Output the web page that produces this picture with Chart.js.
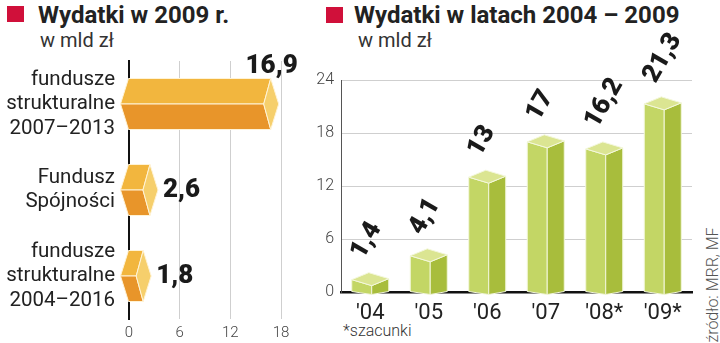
<!DOCTYPE html>
<html>
<head>
<meta charset="utf-8">
<script src="https://cdn.jsdelivr.net/npm/chart.js@4/dist/chart.umd.min.js"></script>
<style>
  html, body { margin: 0; padding: 0; background: #fff; }
  #wrap { position: relative; width: 720px; height: 343px; overflow: hidden; font-family: Roboto, "Liberation Sans", sans-serif; color: #222; }
  .abs { position: absolute; white-space: nowrap; }
  .sq { position: absolute; width: 17px; height: 16px; background: #d0103a; }
  .title { font-weight: bold; font-size: 24px; line-height: 24px; }
  .sub { font-size: 20px; line-height: 20px; color: #333; }
  canvas { position: absolute; top: 0; }
</style>
</head>
<body>
<div id="wrap">
  <div class="sq" style="left:7px;top:6px"></div>
  <div class="abs title" style="left:38px;top:3px">Wydatki w 2009 r.</div>
  <div class="abs sub" style="left:40px;top:30px">w mld zł</div>

  <div class="sq" style="left:326px;top:7px"></div>
  <div class="abs title" style="left:354px;top:3px">Wydatki w latach 2004 – 2009</div>
  <div class="abs sub" style="left:358px;top:30px">w mld zł</div>

  <div class="abs" style="left:343px;top:322px;font-size:16px;line-height:17px;font-weight:300;color:#333">*szacunki</div>
  <div class="abs" style="left:713px;top:285px;font-size:16px;line-height:16px;font-weight:300;color:#555;transform:translate(-50%,-50%) rotate(-90deg)">źródło: MRR, MF</div>

  <canvas id="leftChart" width="300" height="343" style="left:0"></canvas>
  <canvas id="rightChart" width="420" height="343" style="left:300px"></canvas>
</div>

<script>
// Left panel data
const fundLabels = [['fundusze', 'strukturalne', '2007–2013'], ['Fundusz', 'Spójności'], ['fundusze', 'strukturalne', '2004–2016']];
const fundValues = [16.9, 2.6, 1.8];
const fundTicks = [0, 6, 12, 18];

// Right panel data
const yearLabels = ["'04", "'05", "'06", "'07", "'08*", "'09*"];
const yearValues = [1.4, 4.1, 13, 17, 16.2, 21.3];
const yearTicks = [0, 6, 12, 18, 24];

const numFont = '900 26px Roboto, "Liberation Sans", sans-serif';

function fmt(v) {
  return String(v).replace('.', ',');
}

function poly(ctx, pts, fill) {
  ctx.beginPath();
  ctx.moveTo(pts[0][0], pts[0][1]);
  for (let i = 1; i < pts.length; i++) ctx.lineTo(pts[i][0], pts[i][1]);
  ctx.closePath();
  ctx.fillStyle = fill;
  ctx.fill();
  ctx.stroke();
}

// 3D horizontal bars (orange)
const hexBars = {
  id: 'hexBars',
  afterDatasetsDraw(chart) {
    const ctx = chart.ctx;
    const meta = chart.getDatasetMeta(0);
    ctx.save();
    ctx.strokeStyle = '#fff3d6';
    ctx.lineWidth = 1;
    meta.data.forEach((bar, i) => {
      const { x, y, base, height } = bar.getProps(['x', 'y', 'base', 'height'], true);
      const top = y - height / 2;
      const bot = y + height / 2;
      poly(ctx, [[base - 9, y], [base - 1, top], [x - 1, top], [x - 8, y]], '#f2b63e');
      poly(ctx, [[base - 9, y], [base - 1, bot], [x - 1, bot], [x - 8, y]], '#e8952a');
      poly(ctx, [[x - 1, top], [x + 7, y], [x - 1, bot], [x - 8, y]], '#f6cf6c');

      // value label
      ctx.fillStyle = '#1a1a1a';
      ctx.font = numFont;
      ctx.textBaseline = 'middle';
      if (x + 60 > chart.width) {
        ctx.textAlign = 'right';
        ctx.fillText(fmt(fundValues[i]), x + 26, top - 12);
      } else {
        ctx.textAlign = 'left';
        ctx.fillText(fmt(fundValues[i]), x + 12, y);
      }
    });
    ctx.restore();
  }
};

// 3D vertical bars (green)
const boxBars = {
  id: 'boxBars',
  afterDatasetsDraw(chart) {
    const ctx = chart.ctx;
    const meta = chart.getDatasetMeta(0);
    ctx.save();
    ctx.strokeStyle = '#f3f7dc';
    ctx.lineWidth = 1;
    meta.data.forEach((bar, i) => {
      const { x, y, base, width } = bar.getProps(['x', 'y', 'base', 'width'], true);
      const left = x - width / 2;
      const right = x + width / 2;
      const front = left + width * 0.54;
      const back = left + (right - front);
      poly(ctx, [[left, y], [front, y + 6], [front, base + 3], [left, base]], '#c3d665');
      poly(ctx, [[front, y + 6], [right, y - 1], [right, base], [front, base + 3]], '#a8bd3c');
      poly(ctx, [[left, y], [back, y - 7], [right, y - 1], [front, y + 6]], '#dbe592');

      // rotated value label
      ctx.save();
      ctx.translate(x - 13, y - 23);
      ctx.rotate(-60 * Math.PI / 180);
      ctx.fillStyle = '#1a1a1a';
      ctx.font = numFont;
      ctx.textAlign = 'left';
      ctx.textBaseline = 'middle';
      ctx.fillText(fmt(yearValues[i]), 0, 0);
      ctx.restore();
    });
    ctx.restore();
  }
};

Chart.defaults.font.family = 'Roboto, "Liberation Sans", sans-serif';
Chart.defaults.animation = false;

const leftChart = new Chart(document.getElementById('leftChart').getContext('2d'), {
  type: 'bar',
  data: {
    labels: fundLabels,
    datasets: [{
      data: fundValues,
      backgroundColor: 'rgba(0,0,0,0)',
      barThickness: 51
    }]
  },
  options: {
    indexAxis: 'y',
    responsive: false,
    devicePixelRatio: 1,
    layout: { padding: { top: 61, right: 19, left: 0, bottom: 0 } },
    plugins: { legend: { display: false }, tooltip: { enabled: false } },
    scales: {
      x: {
        min: 0,
        max: 18,
        afterBuildTicks: scale => { scale.ticks = fundTicks.map(v => ({ value: v })); },
        afterFit: scale => { scale.height = 24; scale.paddingLeft = 0; scale.paddingRight = 0; },
        border: { display: false },
        grid: {
          drawTicks: false,
          color: ctx => ctx.tick && ctx.tick.value === 0 ? 'rgba(0,0,0,0)' : '#cfcfcf'
        },
        ticks: { padding: 5, color: '#444', font: { size: 15, weight: 300 } }
      },
      y: {
        afterFit: scale => { scale.width = 129; scale.paddingTop = 0; scale.paddingBottom = 0; },
        border: { display: true, color: '#111', width: 2 },
        grid: { display: false, drawTicks: false },
        ticks: { padding: 14, color: '#222', font: { size: 20.5, lineHeight: 1.2 } }
      }
    }
  },
  plugins: [hexBars]
});

const rightChart = new Chart(document.getElementById('rightChart').getContext('2d'), {
  type: 'bar',
  data: {
    labels: yearLabels,
    datasets: [{
      data: yearValues,
      backgroundColor: 'rgba(0,0,0,0)',
      barThickness: 37
    }]
  },
  options: {
    responsive: false,
    devicePixelRatio: 1,
    layout: { padding: { top: 80, right: 28, left: 0, bottom: 0 } },
    plugins: { legend: { display: false }, tooltip: { enabled: false } },
    scales: {
      x: {
        afterFit: scale => { scale.height = 51; scale.paddingLeft = 0; scale.paddingRight = 0; },
        border: { display: true, color: '#111', width: 2.5 },
        grid: { display: false, drawTicks: false },
        ticks: { padding: 8, color: '#222', font: { size: 22 } }
      },
      y: {
        min: 0,
        max: 24,
        afterBuildTicks: scale => { scale.ticks = yearTicks.map(v => ({ value: v })); },
        afterFit: scale => { scale.width = 41; scale.paddingTop = 0; scale.paddingBottom = 0; },
        border: { display: true, color: '#555', width: 1 },
        grid: {
          drawTicks: false,
          color: ctx => ctx.tick && ctx.tick.value === 0 ? 'rgba(0,0,0,0)' : '#cfcfcf'
        },
        ticks: { padding: 7, color: '#444', font: { size: 16, weight: 300 } }
      }
    }
  },
  plugins: [boxBars]
});
</script>
</body>
</html>
